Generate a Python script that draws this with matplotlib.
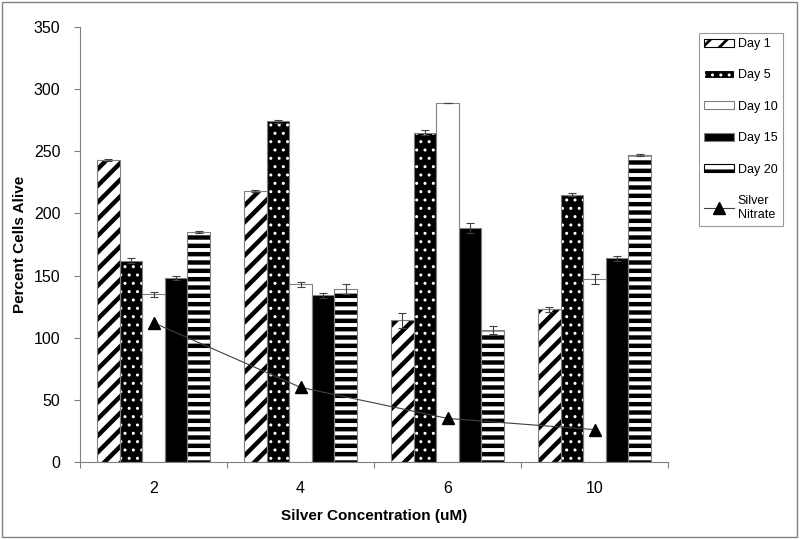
import numpy as np
import matplotlib
matplotlib.use('Agg')
import matplotlib.pyplot as plt
from matplotlib.patches import Patch, Rectangle
from matplotlib.lines import Line2D

plt.rcParams['font.family'] = ['Liberation Sans', 'DejaVu Sans']

# data
concentrations = ['2', '4', '6', '10']
day_labels = ['Day 1', 'Day 5', 'Day 10', 'Day 15', 'Day 20']
day1 = [243, 218, 114, 123]
day5 = [162, 274, 265, 215]
day10 = [135, 143, 289, 147]
day15 = [148, 134, 188, 164]
day20 = [185, 139, 106, 247]
err1 = [1, 1, 6, 2]
err5 = [2, 1, 2, 1]
err10 = [2, 2, 0, 4]
err15 = [2, 2, 4, 2]
err20 = [1, 4, 3, 1]
nitrate = [112, 60, 35, 26]

series = [day1, day5, day10, day15, day20]
errors = [err1, err5, err10, err15, err20]

# face, hatch colour, hatch, hatch linewidth
styles = [
    ('white', 'black', '//', 3.2),
    ('black', 'white', '..', 1.0),
    ('white', 'white', '', 1.0),
    ('black', 'black', '', 1.0),
    ('white', 'black', '--', 3.2),
]

fig = plt.figure(figsize=(8, 5.39), dpi=100)
ax = fig.add_axes([0.1, 0.143, 0.735, 0.807])

x = np.arange(len(concentrations))
w = 0.154

def hatched_bars(ax, xs, heights, face, hcolor, hatch, hlw, width):
    with plt.rc_context({'hatch.linewidth': hlw}):
        bars = ax.bar(xs, heights, width, color=face, edgecolor=hcolor,
                      hatch=hatch, linewidth=0, zorder=2)
        for b in bars:
            if hasattr(b, 'set_hatch_linewidth'):
                b.set_hatch_linewidth(hlw)
    # thin grey outline on top
    ax.bar(xs, heights, width, fill=False, edgecolor='#808080',
           linewidth=0.8, zorder=3)
    return bars

for i, (vals, errs) in enumerate(zip(series, errors)):
    face, hcolor, hatch, hlw = styles[i]
    xs = x + (i - 2) * w
    hatched_bars(ax, xs, vals, face, hcolor, hatch, hlw, w)
    ax.errorbar(xs, vals, yerr=errs, fmt='none', ecolor='#404040',
                elinewidth=0.8, capsize=3, capthick=0.8, zorder=4)

ax.plot(x, nitrate, color='#404040', linewidth=0.8, marker='^',
        markersize=9, markerfacecolor='black', markeredgecolor='black', zorder=5)

ax.set_xlim(-0.5, 3.5)
ax.set_ylim(0, 350)
ax.set_yticks(np.arange(0, 351, 50))
ax.set_xticks(np.arange(-0.5, 3.6, 1))
ax.set_xticklabels([])
ax.set_xticks(x, minor=True)
ax.set_xticklabels(concentrations, minor=True)
ax.tick_params(axis='x', which='minor', length=0, pad=14, labelsize=11.5)
ax.tick_params(axis='x', which='major', length=4, color='#808080', direction='out')
ax.tick_params(axis='y', length=4, color='#808080', labelsize=11.5, pad=10)

for s in ['top', 'right']:
    ax.spines[s].set_visible(False)
for s in ['left', 'bottom']:
    ax.spines[s].set_color('#808080')
    ax.spines[s].set_linewidth(0.8)

ax.set_ylabel('Percent Cells Alive', fontsize=11, fontweight='bold', labelpad=5)
ax.set_xlabel('Silver Concentration (uM)', fontsize=11, fontweight='bold', labelpad=9)

# legend
handles = []
for i, lab in enumerate(day_labels):
    face, hcolor, hatch, hlw = styles[i]
    handles.append(Patch(facecolor=face, edgecolor='#808080' if hatch == '' else hcolor,
                         hatch=hatch, linewidth=0.8, label=lab))
handles.append(Line2D([], [], color='#404040', linewidth=0.8, marker='^',
                      markersize=9, markerfacecolor='black', markeredgecolor='black',
                      label='Silver\nNitrate'))
leg = fig.legend(handles=handles, loc='upper left',
                 bbox_to_anchor=(699 / 800, 1 - 33 / 539), fontsize=9,
                 frameon=True, fancybox=False, edgecolor='#808080',
                 handlelength=2.4, handleheight=0.6, labelspacing=1.55,
                 handletextpad=0.3, borderpad=0.4, borderaxespad=0)
leg.get_frame().set_linewidth(0.8)
for p, st in zip(leg.get_patches(), styles):
    if hasattr(p, 'set_hatch_linewidth'):
        p.set_hatch_linewidth(min(st[3], 2.0))

# outer border of the chart area
fig.patches.append(Rectangle((0.003, 0.004), 0.993, 0.992, transform=fig.transFigure,
                             fill=False, edgecolor='#808080', linewidth=1))

fig.savefig('out.png', dpi=100)
